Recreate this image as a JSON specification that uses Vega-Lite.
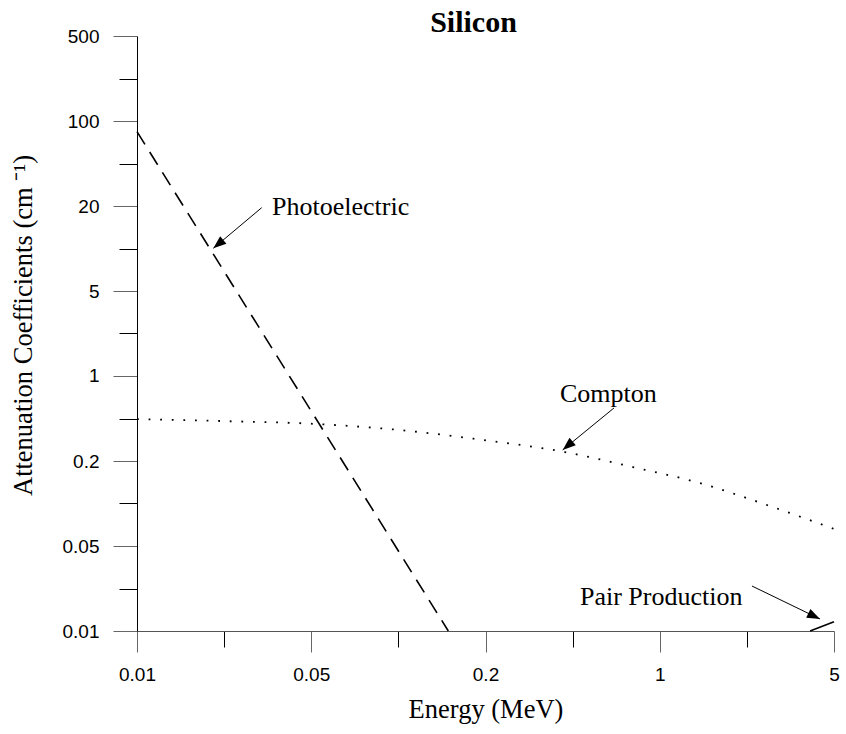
{
  "$schema": "https://vega.github.io/schema/vega-lite/v6.json",
  "autosize": {"type": "none"},
  "width": 697,
  "height": 595,
  "padding": {"left": 137, "top": 36, "right": 12, "bottom": 103},
  "background": "white",
  "config": {"view": {"stroke": null}},
  "title": {"text": "Silicon", "font": "Liberation Serif", "fontSize": 30, "fontWeight": "bold", "color": "black", "anchor": "middle", "frame": "group", "baseline": "alphabetic", "offset": -35, "dx": -12},
  "datasets": {
    "curves": [
      {"series": "Photoelectric", "energy": 0.01, "coef": 87.8},
      {"series": "Photoelectric", "energy": 0.1605, "coef": 0.01},
      {"series": "Compton", "energy": 0.01, "coef": 0.472},
      {"series": "Compton", "energy": 0.021, "coef": 0.4555},
      {"series": "Compton", "energy": 0.0489, "coef": 0.432},
      {"series": "Compton", "energy": 0.104, "coef": 0.3866},
      {"series": "Compton", "energy": 0.2207, "coef": 0.322},
      {"series": "Compton", "energy": 0.454, "coef": 0.259},
      {"series": "Compton", "energy": 0.833, "coef": 0.197},
      {"series": "Compton", "energy": 1.51, "coef": 0.1475},
      {"series": "Compton", "energy": 2.75, "coef": 0.0989},
      {"series": "Compton", "energy": 5.0, "coef": 0.064},
      {"series": "Pair Production", "energy": 4.04, "coef": 0.01},
      {"series": "Pair Production", "energy": 5.0, "coef": 0.01185}
    ],
    "arrows": [
      {"target": "Photoelectric", "energy": 0.01975, "coef": 10.53, "energy_tail": 0.0304, "coef_tail": 22.03},
      {"target": "Compton", "energy": 0.445, "coef": 0.269, "energy_tail": 0.703, "coef_tail": 0.577},
      {"target": "Pair Production", "energy": 4.413, "coef": 0.01244, "energy_tail": 2.406, "coef_tail": 0.02266}
    ],
    "labels": [
      {"label": "Photoelectric", "energy": 0.03333, "coef": 19.29},
      {"label": "Compton", "energy": 0.4345, "coef": 0.6435},
      {"label": "Pair Production", "energy": 0.519, "coef": 0.01604}
    ]
  },
  "encoding": {
    "x": {
      "field": "energy", "type": "quantitative",
      "scale": {"type": "log", "domain": [0.01, 5], "nice": false, "zero": false},
      "axis": {
        "values": [0.01, 0.021746, 0.047287, 0.10283, 0.22361, 0.48626, 1.05737, 2.2993, 5],
        "labelExpr": "['0.01','','0.05','','0.2','','1','','5'][round(log(datum.value/0.01)/log(500)*8)]",
        "grid": false,
        "domainColor": "#555", "domainWidth": 1,
        "tickColor": {"condition": {"test": "round(log(datum.value/0.01)/log(500)*8) % 2 == 0", "value": "#666"}, "value": "black"},
        "tickSize": {"condition": {"test": "round(log(datum.value/0.01)/log(500)*8) % 2 == 0", "value": 21}, "value": 16},
        "tickWidth": 1,
        "labelFont": "Liberation Sans", "labelFontSize": 19, "labelColor": "black", "labelPadding": 13,
        "labelOverlap": false, "labelFlush": false,
        "title": "Energy (MeV)", "titleFont": "Liberation Serif", "titleFontSize": 26.5, "titleFontWeight": "normal", "titleColor": "black", "titlePadding": 12
      }
    },
    "y": {
      "field": "coef", "type": "quantitative",
      "scale": {"type": "log", "domain": [0.01, 500], "nice": false, "zero": false},
      "axis": {
        "values": [0.01, 0.0216591, 0.0469117, 0.101607, 0.220071, 0.476654, 1.0324, 2.23607, 4.8431, 10.4897, 22.7198, 49.209, 106.583, 230.849, 500],
        "labelExpr": "['0.01','','0.05','','0.2','','1','','5','','20','','100','','500'][round(log(datum.value/0.01)/log(50000)*14)]",
        "grid": false,
        "domainColor": "black", "domainWidth": 1,
        "tickColor": {"condition": {"test": "round(log(datum.value/0.01)/log(50000)*14) % 2 == 0", "value": "#666"}, "value": "black"},
        "tickSize": {"condition": {"test": "round(log(datum.value/0.01)/log(50000)*14) % 2 == 0", "value": 24}, "value": 18},
        "tickWidth": 1,
        "labelFont": "Liberation Sans", "labelFontSize": 19, "labelColor": "black", "labelPadding": 14,
        "labelOverlap": false, "labelFlush": false,
        "title": "Attenuation Coefficients (cm ⁻¹)", "titleFont": "Liberation Serif", "titleFontSize": 26.5, "titleFontWeight": "normal", "titleColor": "black", "titlePadding": 25, "titleY": 289
      }
    }
  },
  "layer": [
    {
      "data": {"name": "curves"},
      "transform": [{"filter": "datum.series == 'Photoelectric'"}],
      "mark": {"type": "line", "color": "black", "strokeWidth": 1.6, "strokeDash": [15, 9]}
    },
    {
      "data": {"name": "curves"},
      "transform": [{"filter": "datum.series == 'Compton'"}],
      "mark": {"type": "line", "color": "black", "strokeWidth": 1.8, "strokeDash": [1.8, 9.8], "interpolate": "monotone"}
    },
    {
      "data": {"name": "curves"},
      "transform": [{"filter": "datum.series == 'Pair Production'"}],
      "mark": {"type": "line", "color": "black", "strokeWidth": 1.6}
    },
    {
      "data": {"name": "arrows"},
      "mark": {"type": "rule", "color": "black", "strokeWidth": 1},
      "encoding": {
        "x2": {"field": "energy_tail"},
        "y2": {"field": "coef_tail"}
      }
    },
    {
      "data": {"name": "arrows"},
      "transform": [{"filter": "datum.target != 'Pair Production'"}],
      "mark": {"type": "point", "shape": "M0,0L-0.75,2L0.75,2Z", "size": 169, "filled": true, "color": "black", "opacity": 1, "angle": 230}
    },
    {
      "data": {"name": "arrows"},
      "transform": [{"filter": "datum.target == 'Pair Production'"}],
      "mark": {"type": "point", "shape": "M0,0L-0.75,2L0.75,2Z", "size": 169, "filled": true, "color": "black", "opacity": 1, "angle": 116}
    },
    {
      "data": {"name": "labels"},
      "mark": {"type": "text", "font": "Liberation Serif", "fontSize": 26, "color": "black", "align": "left", "baseline": "alphabetic"},
      "encoding": {"text": {"field": "label"}}
    }
  ]
}
